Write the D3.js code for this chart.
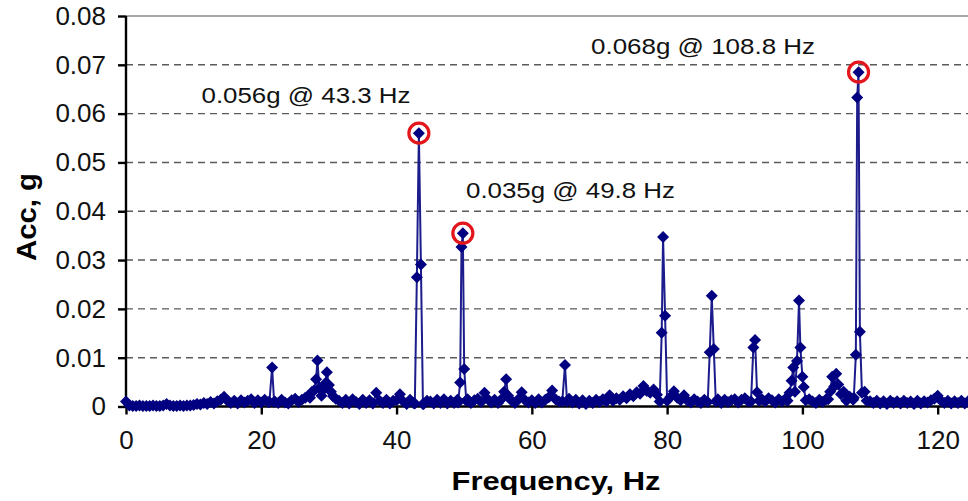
<!DOCTYPE html>
<html>
<head>
<meta charset="utf-8">
<script src="https://cdn.jsdelivr.net/npm/d3@7"></script>
<style>
  html, body { margin: 0; padding: 0; background: #fff; }
  svg { display: block; font-family: "Liberation Sans", Arial, sans-serif; }
</style>
</head>
<body>
<svg id="chart" width="968" height="501"></svg>
<script>
// ---------------- DATA ----------------
const xTickValues = [0, 20, 40, 60, 80, 100, 120];
const xTickLabels = ["0", "20", "40", "60", "80", "100", "120"];
const yTickValues = [0, 0.01, 0.02, 0.03, 0.04, 0.05, 0.06, 0.07, 0.08];
const yTickLabels = ["0", "0.01", "0.02", "0.03", "0.04", "0.05", "0.06", "0.07", "0.08"];

const xTitle = "Frequency, Hz";
const yTitle = "Acc, g";

// Baseline spectrum: FFT bins every 0.5 Hz starting at 0 Hz (acceleration in g)
const binWidthHz = 0.5;
const baseAcc = [
  // 0.0 - 9.5 Hz
  0.0010, 0.0002, 0.0001, 0.0001, 0.0002, 0.0001, 0.0001, 0.0001, 0.0002, 0.0001,
  0.0001, 0.0002, 0.0005, 0.0002, 0.0001, 0.0001, 0.0002, 0.0001, 0.0002, 0.0002,
  // 10.0 - 19.5 Hz
  0.0003, 0.0005, 0.0004, 0.0007, 0.0005, 0.0009, 0.0006, 0.0011, 0.0014, 0.0020,
  0.0012, 0.0007, 0.0012, 0.0006, 0.0013, 0.0008, 0.0012, 0.0015, 0.0007, 0.0013,
  // 20.0 - 29.5 Hz
  0.0008, 0.0014, 0.0009, 0.0013, 0.0010, 0.0007, 0.0014, 0.0008, 0.0006, 0.0013,
  0.0016, 0.0009, 0.0014, 0.0018, 0.0022, 0.0026, 0.0030, 0.0025, 0.0035, 0.0050,
  // 30.0 - 39.5 Hz
  0.0040, 0.0022, 0.0016, 0.0012, 0.0007, 0.0014, 0.0006, 0.0015, 0.0009, 0.0005,
  0.0014, 0.0007, 0.0013, 0.0006, 0.0028, 0.0012, 0.0007, 0.0014, 0.0006, 0.0012,
  // 40.0 - 49.5 Hz
  0.0013, 0.0025, 0.0010, 0.0005, 0.0014, 0.0007, 0.0004, 0.0008, 0.0005, 0.0012,
  0.0010, 0.0006, 0.0014, 0.0007, 0.0015, 0.0006, 0.0012, 0.0007, 0.0014, 0.0006,
  // 50.0 - 59.5 Hz
  0.0011, 0.0015, 0.0007, 0.0013, 0.0016, 0.0009, 0.0028, 0.0015, 0.0008, 0.0014,
  0.0007, 0.0015, 0.0021, 0.0030, 0.0012, 0.0007, 0.0015, 0.0029, 0.0013, 0.0008,
  // 60.0 - 69.5 Hz
  0.0013, 0.0007, 0.0015, 0.0008, 0.0014, 0.0019, 0.0033, 0.0015, 0.0010, 0.0008,
  0.0013, 0.0016, 0.0008, 0.0014, 0.0006, 0.0013, 0.0005, 0.0012, 0.0007, 0.0014,
  // 70.0 - 79.5 Hz
  0.0009, 0.0015, 0.0010, 0.0023, 0.0012, 0.0017, 0.0014, 0.0021, 0.0017, 0.0025,
  0.0021, 0.0029, 0.0026, 0.0042, 0.0032, 0.0028, 0.0035, 0.0024, 0.0016, 0.0012,
  // 80.0 - 89.5 Hz
  0.0015, 0.0020, 0.0031, 0.0018, 0.0013, 0.0023, 0.0012, 0.0008, 0.0015, 0.0010,
  0.0007, 0.0014, 0.0009, 0.0006, 0.0013, 0.0015, 0.0007, 0.0014, 0.0009, 0.0013,
  // 90.0 - 99.5 Hz
  0.0015, 0.0008, 0.0014, 0.0017, 0.0010, 0.0007, 0.0014, 0.0009, 0.0015, 0.0010,
  0.0017, 0.0013, 0.0008, 0.0015, 0.0010, 0.0016, 0.0013, 0.0009, 0.0015, 0.0012,
  // 100.0 - 109.5 Hz
  0.0013, 0.0009, 0.0015, 0.0010, 0.0007, 0.0014, 0.0009, 0.0015, 0.0017, 0.0022,
  0.0026, 0.0031, 0.0024, 0.0017, 0.0020, 0.0014, 0.0017, 0.0022, 0.0026, 0.0013,
  // 110.0 - 119.5 Hz
  0.0011, 0.0007, 0.0012, 0.0006, 0.0011, 0.0005, 0.0012, 0.0007, 0.0011, 0.0006,
  0.0012, 0.0007, 0.0010, 0.0005, 0.0012, 0.0006, 0.0011, 0.0008, 0.0013, 0.0016,
  // 120.0 - 125.0 Hz
  0.0022, 0.0012, 0.0007, 0.0012, 0.0006, 0.0011, 0.0007, 0.0012, 0.0006, 0.0011, 0.0008
];

// Finer-resolution points around the spectral peaks: [frequency Hz, acc g]
const peak21 = [[21.2, 0.0009], [21.6, 0.0080], [21.9, 0.0009]];
const peak28 = [[27.2, 0.0018], [27.5, 0.0030], [27.8, 0.0033], [28.1, 0.0056], [28.3, 0.0094],
                [28.6, 0.0038], [28.9, 0.0022], [29.2, 0.0035], [29.5, 0.0048], [29.7, 0.0070],
                [30.0, 0.0044], [30.3, 0.0030], [30.6, 0.0021]];
const peak43 = [[42.7, 0.0006], [43.0, 0.0265], [43.3, 0.0560], [43.6, 0.0291], [43.9, 0.0005]];
const peak50 = [[49.1, 0.0008], [49.4, 0.0049], [49.6, 0.0327], [49.8, 0.0355], [50.0, 0.0077], [50.3, 0.0012]];
const peak56 = [[55.9, 0.0030], [56.2, 0.0056], [56.5, 0.0022]];
const peak65 = [[64.5, 0.0010], [64.9, 0.0085], [65.2, 0.0010]];
const peak79 = [[78.9, 0.0010], [79.2, 0.0151], [79.4, 0.0347], [79.7, 0.0186], [80.0, 0.0012]];
const peak87 = [[86.0, 0.0009], [86.3, 0.0111], [86.6, 0.0227], [86.9, 0.0118], [87.2, 0.0010]];
const peak93 = [[92.4, 0.0010], [92.75, 0.0121], [93.0, 0.0136], [93.3, 0.0029], [93.6, 0.0012]];
const peak99 = [[97.8, 0.0012], [98.1, 0.0028], [98.4, 0.0053], [98.65, 0.0080], [98.9, 0.0030],
                [99.2, 0.0093], [99.5, 0.0217], [99.7, 0.0121], [100.0, 0.0061], [100.2, 0.0040], [100.5, 0.0013]];
const peak105 = [[103.8, 0.0015], [104.1, 0.0030], [104.4, 0.0061], [104.7, 0.0041], [105.0, 0.0067],
                 [105.3, 0.0045], [105.7, 0.0025], [106.1, 0.0030], [106.5, 0.0012]];
const peak108 = [[107.6, 0.0018], [107.9, 0.0106], [108.1, 0.0633], [108.3, 0.0685], [108.5, 0.0153],
                 [108.8, 0.0028], [109.2, 0.0030], [109.5, 0.0012]];
const peakClusters = [peak21, peak28, peak43, peak50, peak56, peak65, peak79, peak87, peak93, peak99, peak105, peak108];

// Highlighted (circled) peaks and their annotations
const highlightFreq = [43.3, 49.8, 108.3];
const highlightAcc  = [0.0560, 0.0355, 0.0685];
const annotationTexts = ["0.056g @ 43.3 Hz", "0.035g @ 49.8 Hz", "0.068g @ 108.8 Hz"];

// ---------------- LAYOUT ----------------
const W = 968, H = 501;
const plotLeft = 126, plotTop = 16, plotBottom = 406.5, plotRightEdge = 968;
const svg = d3.select("#chart");

const x = d3.scaleLinear().domain([0, 125]).range([plotLeft, 971.5]);
const y = d3.scaleLinear().domain([0, 0.08]).range([plotBottom, plotTop]);

// assemble spectrum
const spans = peakClusters.map(c => [d3.min(c, d => d[0]), d3.max(c, d => d[0])]);
let pts = baseAcc.map((a, i) => ({ f: i * binWidthHz, a }))
  .filter(p => !spans.some(s => p.f >= s[0] && p.f <= s[1]));
peakClusters.forEach(c => c.forEach(d => pts.push({ f: d[0], a: d[1] })));
pts.sort((p, q) => p.f - q.f);

// clip
svg.append("defs").append("clipPath").attr("id", "clip")
  .append("rect").attr("x", 0).attr("y", 0).attr("width", plotRightEdge).attr("height", H);

// gridlines
const gridG = svg.append("g");
gridG.selectAll("line.grid")
  .data(yTickValues.filter(v => v > 0))
  .join("line")
  .attr("x1", plotLeft).attr("x2", plotRightEdge)
  .attr("y1", d => y(d)).attr("y2", d => y(d))
  .attr("stroke", d => d === 0.08 ? "#8a8a8a" : "#5a5a5a")
  .attr("stroke-width", d => d === 0.08 ? 1.3 : 1.4)
  .attr("stroke-dasharray", d => d === 0.08 ? null : "7,5");

// axes
const xAxis = d3.axisBottom(x).tickValues(xTickValues)
  .tickFormat((d, i) => xTickLabels[i]).tickSize(8).tickPadding(16);
const yAxis = d3.axisLeft(y).tickValues(yTickValues)
  .tickFormat((d, i) => yTickLabels[i]).tickSize(8).tickPadding(12);

const xg = svg.append("g").attr("transform", `translate(0,${plotBottom})`).call(xAxis);
const yg = svg.append("g").attr("transform", `translate(${plotLeft},0)`).call(yAxis);
[xg, yg].forEach(g => {
  g.select(".domain").attr("stroke", "#000").attr("stroke-width", 2.4);
  g.selectAll(".tick line").attr("stroke", "#000").attr("stroke-width", 2.4);
  g.selectAll(".tick text").attr("fill", "#111")
    .style("font-family", '"Liberation Sans", Arial, sans-serif').style("font-size", "26px");
});
yg.select(".domain").attr("d", `M0,${plotBottom}V${plotTop}`);
xg.select(".domain").attr("d", `M${plotLeft},0H${plotRightEdge}`);

// data line + markers
const dataG = svg.append("g").attr("clip-path", "url(#clip)");
const line = d3.line().x(d => x(d.f)).y(d => y(d.a));
dataG.append("path").datum(pts)
  .attr("d", line).attr("fill", "none")
  .attr("stroke", "#1c1c8c").attr("stroke-width", 2).attr("stroke-linejoin", "round");

const diamond = d3.symbol().type(d3.symbolSquare).size(72)();
dataG.selectAll("path.mk").data(pts).join("path")
  .attr("class", "mk")
  .attr("d", diamond)
  .attr("transform", d => `translate(${x(d.f)},${y(d.a)}) rotate(45)`)
  .attr("fill", "#000080");

// highlight circles
svg.selectAll("circle.hl").data(highlightFreq).join("circle")
  .attr("class", "hl")
  .attr("cx", (d) => x(d)).attr("cy", (d, i) => y(highlightAcc[i]))
  .attr("r", 10).attr("fill", "none").attr("stroke", "#e3161c").attr("stroke-width", 3.2);

// annotations
const annPos = [[201.5, 102.5, 209], [466, 197.5, 209], [591, 53.5, 224]];
svg.selectAll("text.ann").data(annotationTexts).join("text")
  .attr("class", "ann")
  .attr("x", (d, i) => annPos[i][0]).attr("y", (d, i) => annPos[i][1])
  .attr("textLength", (d, i) => annPos[i][2]).attr("lengthAdjust", "spacingAndGlyphs")
  .attr("font-size", 22).attr("fill", "#111")
  .text(d => d);

// axis titles
svg.append("text")
  .attr("x", 451.5).attr("y", 489.5)
  .attr("textLength", 209).attr("lengthAdjust", "spacingAndGlyphs")
  .attr("font-size", 25).attr("font-weight", "bold").attr("fill", "#000")
  .text(xTitle);

svg.append("text")
  .attr("transform", "translate(36,217) rotate(-90)")
  .attr("text-anchor", "middle")
  .attr("textLength", 88).attr("lengthAdjust", "spacingAndGlyphs")
  .attr("font-size", 27).attr("font-weight", "bold").attr("fill", "#000")
  .text(yTitle);
</script>
</body>
</html>
